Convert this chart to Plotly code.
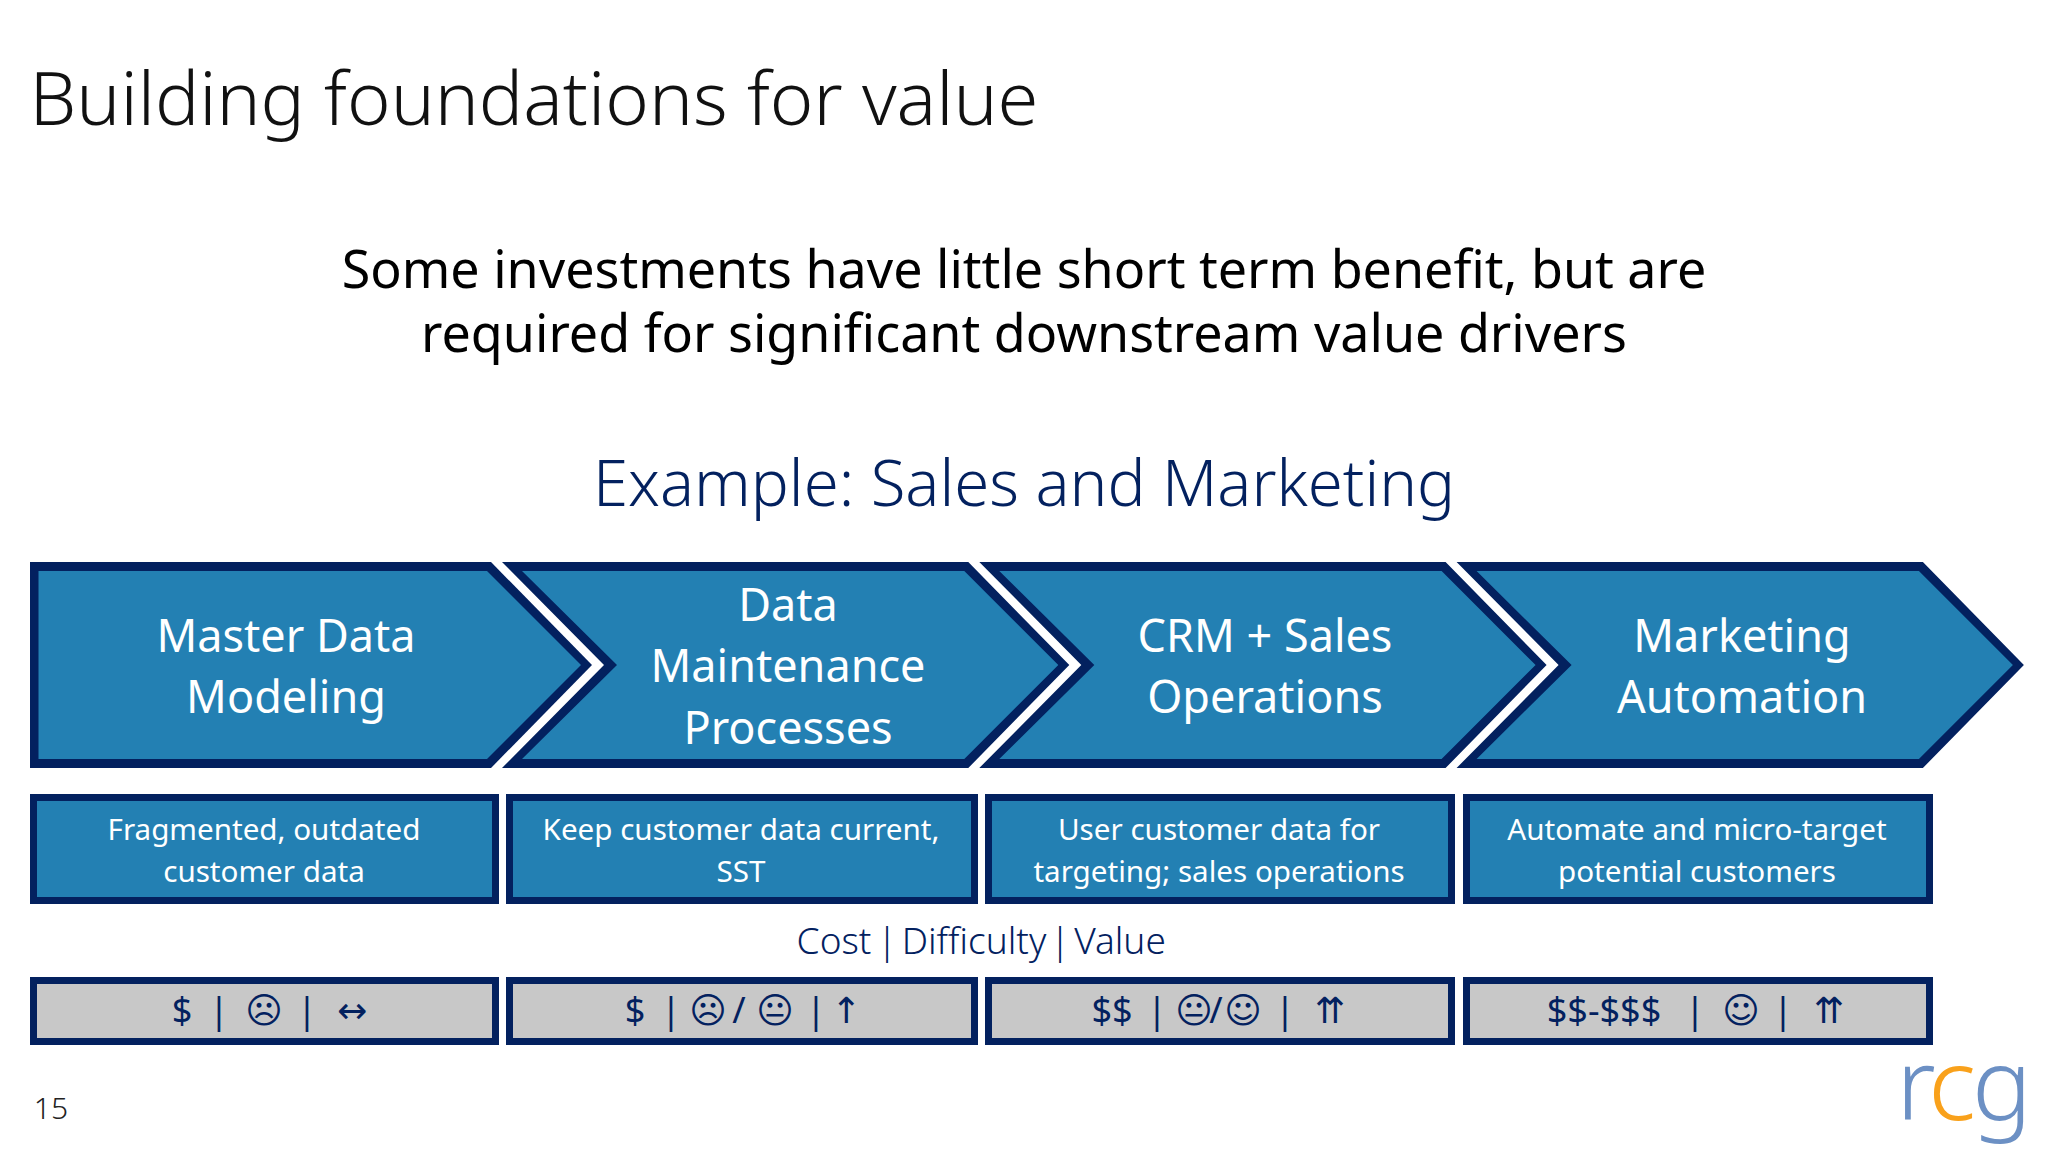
import plotly.graph_objects as go

# ---- content ----
title = "Building foundations for value"
subtitle = ["Some investments have little short term benefit, but are",
            "required for significant downstream value drivers"]
example = "Example: Sales and Marketing"
stages = [["Master Data", "Modeling"], ["Data", "Maintenance", "Processes"],
          ["CRM + Sales", "Operations"], ["Marketing", "Automation"]]
descriptions = [["Fragmented, outdated", "customer data"], ["Keep customer data current,", "SST"],
                ["User customer data for", "targeting; sales operations"],
                ["Automate and micro-target", "potential customers"]]
legend_row = ["Cost", "|", "Difficulty", "|", "Value"]
rating_tokens = [
    ["$", "|", "☹", "|", "↔"],
    ["$", "|", "☹", "/", "😐", "|", "↑"],
    ["$$", "|", "😐", "/", "☺", "|", "⇈"],
    ["$$-$$$", "|", "☺", "|", "⇈"],
]
page_number = "15"
logo_letters = ["r", "c", "g"]

# ---- layout constants (pixels of the 2048x1152 slide) ----
NAVY = "#03215F"
BLUE = "#2380B3"
GRAY = "#C8C8C8"
SANS = "Noto Sans"
SYM = "DejaVu Sans"
STEP = 477.3
rating_x = [
    [182, 219, 264, 307, 352],
    [635, 671, 708, 739, 775, 816, 846],
    [1112, 1157, 1194, 1216, 1243, 1285, 1330],
    [1604, 1695, 1741, 1783, 1829],
]
legend_x = [834, 887, 974, 1060, 1120]
logo_x = [1916, 1952, 2002]
logo_colors = ["#6C90C4", "#F9A11B", "#6C90C4"]
box_x = [(30, 499), (506, 978), (985, 1455), (1463, 1933)]

fig = go.Figure()

def poly(xs, ys, color):
    fig.add_trace(go.Scatter(x=xs + xs[:1], y=ys + ys[:1], mode="lines", fill="toself",
                             fillcolor=color, line=dict(width=0, color=color),
                             hoverinfo="skip", showlegend=False))

def label(x, y, text, size, color, family=SANS, weight=400):
    fig.add_trace(go.Scatter(x=[x], y=[y], mode="text", text=[text], textposition="middle center",
                             textfont=dict(size=size, color=color, family=family, weight=weight),
                             hoverinfo="skip", showlegend=False))

def lines(x, yc, rows, gap, size, color):
    y0 = yc - gap * (len(rows) - 1) / 2
    for i, r in enumerate(rows):
        label(x, y0 + i * gap, r, size, color)

def chevron(k):
    o = k * STEP
    mid = 665
    if k == 0:
        oxs = [30, 30]; oys = [768, 562]
        ixs = [38.5, 38.5]; iys = [759, 571]
    else:
        oxs = [502 + (k - 1) * STEP, 604 + (k - 1) * STEP, 502 + (k - 1) * STEP]; oys = [768, mid, 562]
        ixs = [522 + (k - 1) * STEP, 617 + (k - 1) * STEP, 522 + (k - 1) * STEP]; iys = [759, mid, 571]
    poly(oxs + [491 + o, 592 + o, 491 + o], oys + [562, mid, 768], NAVY)
    poly(ixs + [487 + o, 581 + o, 487 + o], iys + [571, mid, 759], BLUE)

def box(x0, x1, y0, y1, b, color):
    poly([x0, x1, x1, x0], [y0, y0, y1, y1], NAVY)
    poly([x0 + b, x1 - b, x1 - b, x0 + b], [y0 + b, y0 + b, y1 - b, y1 - b], color)

for k in range(len(stages)):
    chevron(k)
for (x0, x1) in box_x:
    box(x0, x1, 794, 904, 7, BLUE)
    box(x0, x1, 977, 1045, 7, GRAY)

label(534, 106, title, 74, "#111111", weight=300)
lines(1024, 307, subtitle, 64.6, 52, "#000000")
label(1024, 490, example, 63.5, NAVY, weight=300)

stage_x = [286, 788, 1265, 1742]
for x, s in zip(stage_x, stages):
    lines(x, 671, s, 61.4, 45, "#FFFFFF")
desc_x = [264, 741, 1219, 1697]
for x, d in zip(desc_x, descriptions):
    lines(x, 854, d, 41.8, 29.6, "#FFFFFF")
for x, t in zip(legend_x, legend_row):
    label(x, 945, t, 37, NAVY, weight=300)

for toks, xs in zip(rating_tokens, rating_x):
    for t, x in zip(toks, xs):
        is_sym = t[0] in "☹😐☺↔↑⇈"
        label(x, 1014, t, 36, NAVY, family=SYM if is_sym else SANS)

label(51, 1111, page_number, 30, "#222222", weight=300)
for x, ch, c in zip(logo_x, logo_letters, logo_colors):
    label(x, 1095, ch, 100, c, weight=300)

fig.update_layout(width=2048, height=1152, margin=dict(l=0, r=0, t=0, b=0),
                  paper_bgcolor="white", plot_bgcolor="white",
                  xaxis=dict(range=[0, 2048], visible=False, fixedrange=True),
                  yaxis=dict(range=[1152, 0], visible=False, fixedrange=True))
fig.write_html("out.html", post_script="document.body.style.margin='0';",
               config=dict(displayModeBar=False))
